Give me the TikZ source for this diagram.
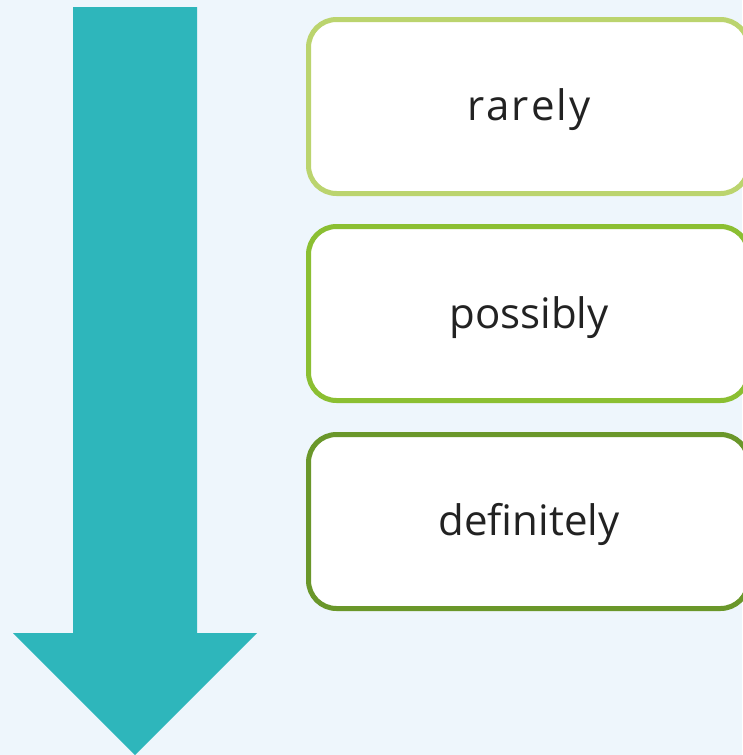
\documentclass[tikz,border=0pt]{standalone}
\usepackage{fontspec}
\setmainfont{Open Sans}
\definecolor{bgc}{HTML}{EEF6FC}
\definecolor{arrc}{HTML}{2EB6BB}
\definecolor{gA}{HTML}{BBD46E}
\definecolor{gB}{HTML}{8BBF32}
\definecolor{gC}{HTML}{6A972A}
\definecolor{txt}{HTML}{222222}
\newcommand{\ls}{\kern2pt}
\tikzset{
  card/.style={draw=#1, line width=5pt, fill=white, rounded corners=28pt,
    minimum width=440pt, minimum height=174pt, inner sep=0pt,
    font=\fontsize{42}{48}\selectfont, text=txt},
}
\begin{document}
\begin{tikzpicture}[x=1pt,y=-1pt]
\fill[bgc] (0,0) rectangle (742,755);
\useasboundingbox (0,0) rectangle (742,755);
\fill[arrc] (73,7) -- (197,7) -- (197,633) -- (257,633) -- (135,755) -- (13,633) -- (73,633) -- cycle;
\node[card=gA] (r) at (528.5,106.5) {};
\node[card=gB] (p) at (528.5,313.5) {};
\node[card=gC] (d) at (528.5,521.5) {};
\node[font=\fontsize{42}{48}\selectfont, text=txt, inner sep=0pt] (rt) at (529,110) {r\ls a\ls r\ls e\ls l\ls y};
\node[font=\fontsize{42}{48}\selectfont, text=txt, inner sep=0pt] (pt) at (529,318) {possibly};
\node[font=\fontsize{42}{48}\selectfont, text=txt, inner sep=0pt] (dt) at (529,524) {definitely};
\end{tikzpicture}
\end{document}
